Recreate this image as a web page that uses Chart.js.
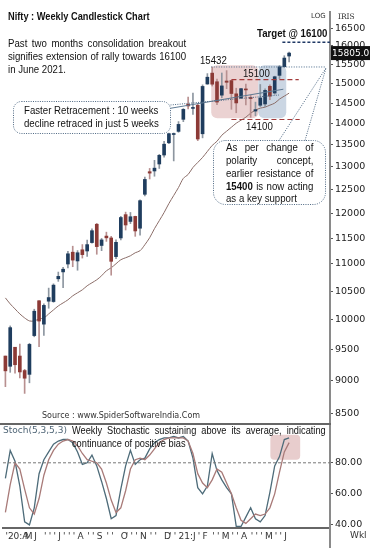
<!DOCTYPE html>
<html>
<head>
<meta charset="utf-8">
<script src="https://cdn.jsdelivr.net/npm/chart.js@4.4.1/dist/chart.umd.min.js"></script>
<style>
html, body { margin: 0; padding: 0; background: #fff; }
#wrap { position: relative; width: 376px; height: 548px; overflow: hidden; }
canvas { position: absolute; left: 0; }
#priceCanvas { top: 0; }
#stochCanvas { top: 424px; }
svg { position: absolute; left: 0; top: 0; }
.t { position: absolute; transform: scaleX(0.84); transform-origin: 0 0; white-space: nowrap;
     font: 11.5px/13px "Liberation Sans", Arial, sans-serif; color: #111; }
.j { white-space: normal; text-align: justify; text-align-last: justify; }
.ax { position: absolute; font-family: "DejaVu Sans", sans-serif; color: #333; white-space: nowrap; line-height: 1; }
.bar { position: absolute; }
</style>
</head>
<body>
<div id="wrap">
  <canvas id="priceCanvas" width="376" height="424"></canvas>
  <canvas id="stochCanvas" width="376" height="124"></canvas>

  <!-- separators -->
  <div class="bar" style="left:0;top:423px;width:331px;height:2px;background:#666"></div>
  <div class="bar" style="left:329px;top:528px;width:2px;height:20px;background:#8a8a8a"></div>

  <!-- callout outlines -->
  <svg width="376" height="548">
    <g fill="none" stroke="#4d6782" stroke-width="1" stroke-dasharray="1 1.3">
      <rect x="13.5" y="101.5" width="157" height="32" rx="8"/>
      <path d="M170.5 105 L279 95"/>
      <rect x="213.5" y="140.5" width="112" height="64" rx="12"/>
      <path d="M279 140.5 L326 68 M305 140.5 L326 68"/>
    </g>
  </svg>

  <!-- texts -->
  <div class="t" style="left:8px;top:10px;font-weight:bold;font-size:11px">Nifty : Weekly Candlestick Chart</div>
  <div class="t j" style="left:8px;top:37px;width:212px">Past two months consolidation breakout</div>
  <div class="t j" style="left:8px;top:50px;width:212px">signifies extension of rally towards 16100</div>
  <div class="t" style="left:8px;top:63px">in June 2021.</div>

  <div class="t j" style="left:24px;top:103.5px;width:160px">Faster Retracement : 10 weeks</div>
  <div class="t" style="left:24px;top:117px">decline retraced in just 5 weeks</div>

  <div class="t" style="left:257px;top:26.5px;font-weight:bold">Target @ 16100</div>
  <div class="t" style="left:200px;top:54px">15432</div>
  <div class="t" style="left:243px;top:67px">15100</div>
  <div class="t" style="left:246px;top:119.5px">14100</div>

  <div class="t j" style="left:226px;top:140.5px;width:104px">As per change of</div>
  <div class="t j" style="left:226px;top:154px;width:104px">polarity concept,</div>
  <div class="t j" style="left:226px;top:167px;width:104px">earlier resistance of</div>
  <div class="t j" style="left:226px;top:179.5px;width:104px"><b>15400</b> is now acting</div>
  <div class="t" style="left:226px;top:192px">as a key support</div>

  <div class="ax" style="left:311px;top:13px;font-size:7px">LOG</div>
  <div class="ax" style="left:338px;top:13px;font-size:7.5px;font-family:'DejaVu Serif',serif">IRIS</div>

  <div class="ax" style="left:42px;top:412px;font-size:8px">Source : www.SpiderSoftwareIndia.Com</div>
  <div class="ax" style="left:3px;top:426px;font-size:9px;color:#4e6475">Stoch(5,3,5,3)</div>
  <div class="t j" style="left:72px;top:423.5px;width:302px;font-size:11px">Weekly Stochastic sustaining above its average, indicating</div>
  <div class="t" style="left:72px;top:436.5px;font-size:11px">continuance of positive bias</div>
  <div class="ax" style="left:350px;top:531px;font-size:9px">Wkl</div>
</div>

<script>
// weekly candles, Apr-2020 .. Jun-2021
const weekLabels = ["'20:A", '', '', '', 'M', '', 'J', '', "'", "'",
                    "'", 'J', "'", "'", "'", 'A', '', "'", "'", 'S',
                    '', "'", "'", '', 'O', "'", "'", "'", 'N', '',
                    "'", "'", '', 'D', "'", "'", '21:J', '', '', '',
                    "'", 'F', '', "'", "'", 'M', '', "'", "'", 'A',
                    '', "'", "'", "'", 'M', '', "'", "'", 'J', ''];

const open = [9390, 9226, 9533, 9390, 9159, 9099, 9726, 10326, 9919, 10318,
              10312, 10723, 10851, 10999, 11225, 11057, 11271, 11248, 11412, 11777,
              11355, 11540, 11503, 11140, 11503, 11973, 11834, 11937, 11697, 12399,
              12890, 12906, 13062, 13265, 13547, 13741, 13815, 14104, 14474, 14371,
              14449, 13758, 14987, 15270, 15045, 14702, 15064, 15075, 14736, 14628,
              14837, 14644, 14306, 14449, 14481, 14928, 14756, 15211, 15437, 15725];
const high = [9390, 9889, 9533, 9584, 9178, 9598, 10177, 10328, 10272, 10553,
              10631, 10848, 10936, 11240, 11341, 11256, 11373, 11460, 11686, 11794,
              11493, 11618, 11535, 11465, 11939, 12025, 12018, 11942, 12280, 12770,
              12963, 13145, 13280, 13579, 13773, 13777, 14050, 14367, 14654, 14754,
              14492, 14964, 15257, 15432, 15113, 15273, 15336, 15081, 14879, 14877,
              14984, 14697, 14527, 14974, 14863, 14967, 15190, 15469, 15733, 15835];
const low = [8909, 9131, 9116, 9043, 8806, 8968, 9706, 9544, 9728, 10194,
             10299, 10676, 10562, 10927, 10948, 10882, 11112, 11145, 11399, 11185,
             11254, 11435, 10790, 11101, 11464, 11661, 11790, 11535, 11557, 12367,
             12730, 12790, 12962, 13214, 13524, 13131, 13793, 14048, 14358, 14222,
             13597, 13662, 14979, 14935, 14467, 14636, 14867, 14350, 14264, 14617,
             14460, 14151, 14191, 14416, 14416, 14591, 14725, 15127, 15435, 15566];
const close = [9154, 9860, 9251, 9137, 9039, 9580, 10142, 9972, 10244, 10383,
               10607, 10768, 10901, 11194, 11073, 11214, 11178, 11372, 11647, 11333,
               11464, 11505, 11050, 11417, 11914, 11762, 11930, 11642, 12264, 12720,
               12859, 12969, 13258, 13514, 13761, 13749, 13982, 14347, 14433, 14372,
               13635, 14924, 15163, 14982, 14529, 14938, 15031, 14744, 14507, 14867,
               14835, 14617, 14341, 14631, 14823, 14677, 15175, 15436, 15670, 15805];
const movingAvg = [10377, 10270, 10182, 10095, 10026, 9974, 9974, 10009, 10026, 10095,
                   10165, 10235, 10288, 10342, 10414, 10468, 10522, 10595, 10650, 10705,
                   10779, 10872, 10928, 11004, 11080, 11118, 11156, 11214, 11253, 11370,
                   11508, 11688, 11850, 12016, 12204, 12374, 12546, 12743, 12829, 12984,
                   13096, 13210, 13347, 13485, 13582, 13724, 13819, 13914, 14010, 14083,
                   14156, 14254, 14328, 14378, 14403, 14452, 14502, 14603, 14678, 14754];

// stochastic %K / %D
const stochK = [70, 88, 81, 65, 42, 40, 51, 73, 82, 87,
                92, 94, 95, 95, 93, 87, 79, 80, 85, 78,
                68, 57, 44, 46, 63, 78, 88, 79, 82, 83,
                89, 93, 95, 96, 96, 97, 96, 97, 94, 83,
                64, 60, 65, 86, 75, 69, 64, 60, 39, 39,
                45, 51, 44, 42, 46, 61, 78, 84, 95, 96];
const stochD = [48, 66, 80, 76, 63, 51, 47, 57, 72, 82,
                88, 92, 94, 95, 94, 91, 86, 82, 81, 80,
                76, 67, 56, 48, 51, 62, 76, 82, 83, 82,
                85, 89, 93, 95, 96, 96, 96, 96, 94, 86,
                73, 67, 64, 69, 76, 74, 67, 60, 51, 43,
                41, 44, 47, 46, 47, 51, 60, 74, 87, 93];

const priceTicks = [8500, 9000, 9500, 10000, 10500, 11000, 11500, 12000, 12500,
                    13000, 13500, 14000, 14500, 15000, 15500, 16000, 16500];
const stochTicks = [40, 60, 80];
const levelValues = [16100, 15432, 15100, 14100];
const trendPrices = [14374, 14853];
const stochSignal = 80;

// ---- styling ----
Chart.defaults.font.family = "'DejaVu Sans', sans-serif";
const upBody = '#1f3d5e', downBody = '#8c3a36';
const upWick = '#8d96a0', downWick = '#b89090';
const axisGrey = '#8a8a8a';
const xRange = { type: 'linear', min: -0.5, max: 67.5, offset: false };

const levelStyles = [
  { from: 57.6, to: 67.5, color: '#1f3864', dash: [3, 2], width: 1.5 },
  { from: 42.8, to: 66.7, color: '#4a6a8a', dash: [1, 1.5], width: 1 },
  { from: 47, to: 61, color: '#a33a3a', dash: [5, 3], width: 1.2 },
  { from: 47, to: 61.2, color: '#a33a3a', dash: [5, 3], width: 1.2 }
];
const zones = [
  { from: 42.8, to: 52.6, top: 15480, bottom: 14130, color: '#ebd2d2' },
  { from: 52.6, to: 58.4, top: 15480, bottom: 14130, color: '#cbd6e3' }
];

const yAxisRight = (extra) => Object.assign({
  position: 'right',
  afterFit: s => { s.width = 46; s.paddingTop = 0; s.paddingBottom = 0; },
  grid: { drawOnChartArea: false, tickLength: 3, color: '#555' },
  border: { color: axisGrey, width: 2 }
}, extra);

const idx = close.map((_, i) => i);
const up = idx.map(i => close[i] >= open[i]);

const pricePlugin = {
  id: 'priceExtras',
  beforeDatasetsDraw(chart) {
    const { ctx, scales: { x, y } } = chart;
    ctx.save();
    zones.forEach(z => {
      const x0 = x.getPixelForValue(z.from), x1 = x.getPixelForValue(z.to);
      const y0 = y.getPixelForValue(z.top), y1 = y.getPixelForValue(z.bottom);
      ctx.fillStyle = z.color;
      ctx.beginPath();
      ctx.roundRect(x0, y0, x1 - x0, y1 - y0, 6);
      ctx.fill();
    });
    ctx.restore();
  },
  afterDraw(chart) {
    const { ctx, chartArea, scales: { y } } = chart;
    const last = close[close.length - 1];
    const py = y.getPixelForValue(last);
    ctx.save();
    ctx.fillStyle = '#111';
    ctx.fillRect(chartArea.right + 1, py - 7, 39, 14);
    ctx.fillStyle = '#fff';
    ctx.font = "9px 'DejaVu Sans'";
    ctx.textBaseline = 'middle';
    ctx.fillText(last.toFixed(1), chartArea.right + 2, py + 0.5);
    ctx.restore();
  }
};

new Chart(document.getElementById('priceCanvas'), {
  type: 'bar',
  data: {
    datasets: [
      {
        data: idx.map(i => ({ x: i, y: [low[i], high[i]] })),
        backgroundColor: idx.map(i => up[i] ? upWick : downWick),
        barThickness: 1, grouped: false, order: 3
      },
      {
        data: idx.map(i => ({ x: i, y: [open[i], close[i]] })),
        backgroundColor: idx.map(i => up[i] ? upBody : downBody),
        barThickness: 3, minBarLength: 1, grouped: false, order: 2
      },
      {
        type: 'line',
        data: idx.map(i => ({ x: i, y: movingAvg[i] })),
        borderColor: '#8b6d68', borderWidth: 1, pointRadius: 0, tension: 0.3, order: 4
      },
      {
        type: 'line',
        data: [{ x: 34.3, y: trendPrices[0] }, { x: 57.8, y: trendPrices[1] }],
        borderColor: '#5f7a93', borderWidth: 1, pointRadius: 0, order: 1
      },
      ...levelValues.map((v, k) => ({
        type: 'line',
        data: [{ x: levelStyles[k].from, y: v }, { x: levelStyles[k].to, y: v }],
        borderColor: levelStyles[k].color, borderDash: levelStyles[k].dash,
        borderWidth: levelStyles[k].width, pointRadius: 0, order: 1
      }))
    ]
  },
  options: {
    responsive: false,
    animation: false,
    events: [],
    layout: { padding: { left: 3, top: 12, right: 0, bottom: 0 } },
    plugins: { legend: { display: false }, tooltip: { enabled: false } },
    scales: {
      x: Object.assign({ display: false }, xRange),
      y: yAxisRight({
        type: 'logarithmic', min: 8355, max: 16961,
        afterBuildTicks: s => { s.ticks = priceTicks.map(v => ({ value: v })); },
        ticks: { callback: v => String(v), autoSkip: false, padding: 2, color: '#222', font: { size: 9.5 } }
      })
    }
  },
  plugins: [pricePlugin]
});

const stochPlugin = {
  id: 'stochBox',
  beforeDatasetsDraw(chart) {
    const { ctx, scales: { x, y } } = chart;
    const x0 = x.getPixelForValue(55.1), x1 = x.getPixelForValue(61.3);
    const y0 = y.getPixelForValue(98), y1 = y.getPixelForValue(82);
    ctx.save();
    ctx.fillStyle = '#e8cdcd';
    ctx.beginPath();
    ctx.roundRect(x0, y0, x1 - x0, y1 - y0, 4);
    ctx.fill();
    ctx.restore();
  }
};

new Chart(document.getElementById('stochCanvas'), {
  type: 'line',
  data: {
    datasets: [
      {
        data: [{ x: -0.5, y: stochSignal }, { x: 67.5, y: stochSignal }],
        borderColor: '#777', borderDash: [3, 2], borderWidth: 1, pointRadius: 0
      },
      {
        data: idx.map(i => ({ x: i, y: stochD[i] })),
        borderColor: '#a87a78', borderWidth: 1.3, pointRadius: 0, tension: 0
      },
      {
        data: idx.map(i => ({ x: i, y: stochK[i] })),
        borderColor: '#4d6b79', borderWidth: 1.3, pointRadius: 0, tension: 0
      }
    ]
  },
  options: {
    responsive: false,
    animation: false,
    events: [],
    layout: { padding: { left: 3, top: 0, right: 0, bottom: 0 } },
    plugins: { legend: { display: false }, tooltip: { enabled: false } },
    scales: {
      x: Object.assign({
        afterBuildTicks: s => { s.ticks = idx.map(i => ({ value: i })); },
        afterFit: s => { s.height = 20; s.paddingLeft = 0; s.paddingRight = 0; },
        ticks: {
          callback: v => weekLabels[v] || '', autoSkip: false, maxRotation: 0, minRotation: 0,
          align: 'start', padding: 3, color: '#333', font: { size: 9 }
        },
        grid: { display: false, drawTicks: false },
        border: { display: true, color: '#666', width: 2 }
      }, xRange),
      y: yAxisRight({
        type: 'linear', min: 38, max: 105,
        afterBuildTicks: s => { s.ticks = stochTicks.map(v => ({ value: v })); },
        ticks: { callback: v => v.toFixed(2), autoSkip: false, padding: 2, color: '#222', font: { size: 9.5 } }
      })
    }
  },
  plugins: [stochPlugin]
});
</script>
</body>
</html>
